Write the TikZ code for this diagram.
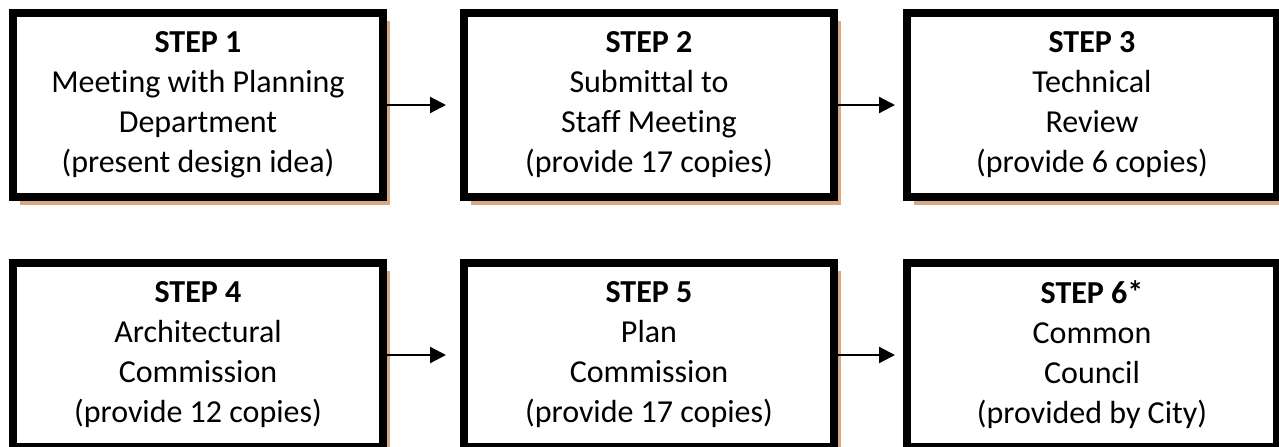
\documentclass[tikz,border=0pt]{standalone}
\usepackage{fontspec}
\setmainfont[Ligatures=NoCommon]{Carlito}
\usetikzlibrary{positioning,shadows,arrows.meta}
\definecolor{shadowtan}{RGB}{214,168,132}
\tikzset{
  stepbox/.style={draw, line width=4pt, fill=white, minimum width=185pt,
    minimum height=92pt, align=center, inner sep=0pt,
    font=\fontsize{16}{20}\selectfont},
  tanshadow/.style={drop shadow={fill=shadowtan, opacity=1,
    shadow xshift=3.5pt, shadow yshift=-4pt}},
  flow/.style={line width=1.1pt, -{Triangle[length=8pt,width=8pt]}}
}

\begin{document}
\begin{tikzpicture}
  \useasboundingbox (0,0) rectangle (639.5pt,-223pt);
  % top row
  \node[stepbox, tanshadow] (s1) at (99pt,-52.5pt)
    {\textbf{STEP 1}\\Meeting with Planning\\Department\\(present design idea)};
  \node[stepbox, tanshadow] (s2) [right=36.5pt of s1]
    {\textbf{STEP 2}\\Submittal to\\Staff Meeting\\(provide 17 copies)};
  \node[stepbox, tanshadow] (s3) [right=32.5pt of s2]
    {\textbf{STEP 3}\\Technical\\Review\\(provide 6 copies)};
  % bottom row
  \node[stepbox, tanshadow] (s4) [below=29pt of s1]
    {\textbf{STEP 4}\\Architectural\\Commission\\(provide 12 copies)};
  \node[stepbox, tanshadow] (s5) [below=29pt of s2]
    {\textbf{STEP 5}\\Plan\\Commission\\(provide 17 copies)};
  \node[stepbox, tanshadow] (s6) [below=29pt of s3]
    {\textbf{STEP 6*}\\Common\\Council\\(provided by City)};
  % arrows
  \draw[flow] (s1.east) -- ([xshift=-7pt]s2.west);
  \draw[flow] (s2.east) -- ([xshift=-4pt]s3.west);
  \draw[flow] (s4.east) -- ([xshift=-7pt]s5.west);
  \draw[flow] (s5.east) -- ([xshift=-4pt]s6.west);
\end{tikzpicture}
\end{document}
